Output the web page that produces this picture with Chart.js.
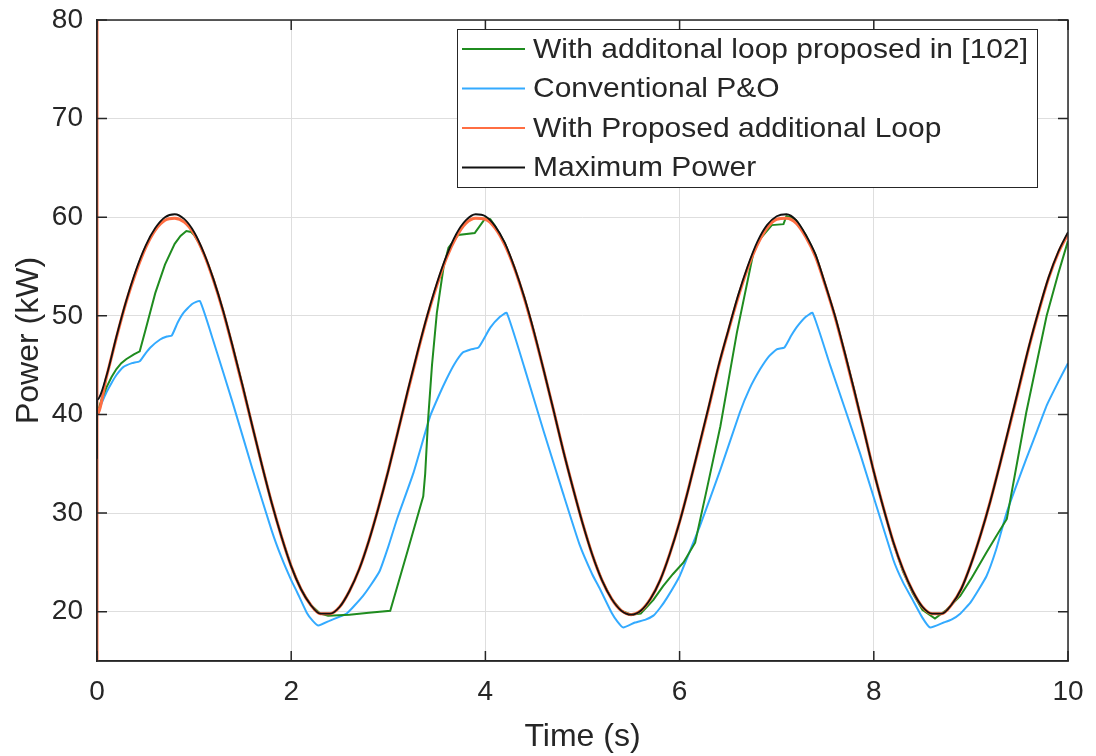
<!DOCTYPE html>
<html>
<head>
<meta charset="utf-8">
<script src="https://cdn.jsdelivr.net/npm/chart.js@4.4.1/dist/chart.umd.min.js"></script>
<style>
  html, body { margin: 0; padding: 0; background: #fff; }
</style>
</head>
<body>
<canvas id="myChart" width="1096" height="756"></canvas>
<script>
// axis ticks
const xTicks = [0, 2, 4, 6, 8, 10];
const yTicks = [20, 30, 40, 50, 60, 70, 80];

// Maximum Power (black), sampled every 0.1 s
const maxTime = [0, 0, 0.1, 0.2, 0.3, 0.4, 0.5, 0.6, 0.7, 0.8, 0.9, 1.0, 1.1, 1.2, 1.3, 1.4, 1.5, 1.6, 1.7, 1.8, 1.9,
  2.0, 2.1, 2.2, 2.3, 2.4, 2.5, 2.6, 2.7, 2.8, 2.9, 3.0, 3.1, 3.2, 3.3, 3.4, 3.5, 3.6, 3.7, 3.8, 3.9,
  4.0, 4.1, 4.2, 4.3, 4.4, 4.5, 4.6, 4.7, 4.8, 4.9, 5.0, 5.1, 5.2, 5.3, 5.4, 5.5, 5.6, 5.7, 5.8, 5.9,
  6.0, 6.1, 6.2, 6.3, 6.4, 6.5, 6.6, 6.7, 6.8, 6.9, 7.0, 7.1, 7.2, 7.3, 7.4, 7.5, 7.6, 7.7, 7.8, 7.9,
  8.0, 8.1, 8.2, 8.3, 8.4, 8.5, 8.6, 8.7, 8.8, 8.9, 9.0, 9.1, 9.2, 9.3, 9.4, 9.5, 9.6, 9.7, 9.8, 9.9, 10.0];
const maxPower = [35.5, 41.5, 44.0, 47.9, 51.5, 54.6, 57.1, 58.9, 60.0, 60.3, 59.8, 58.5, 56.4, 53.7, 50.5, 46.8, 42.9, 38.8, 34.8, 31.0, 27.6,
  24.6, 22.3, 20.7, 19.8, 19.8, 20.5, 22.1, 24.3, 27.2, 30.6, 34.3, 38.3, 42.4, 46.3, 50.0, 53.3, 56.1, 58.3, 59.7, 60.3,
  60.1, 59.1, 57.4, 54.9, 51.9, 48.4, 44.5, 40.5, 36.4, 32.6, 29.0, 25.8, 23.2, 21.3, 20.1, 19.7, 20.1, 21.3, 23.2, 25.9,
  29.1, 32.8, 36.8, 40.8, 44.9, 48.5, 52.0, 55.0, 57.5, 59.2, 60.1, 60.3, 59.7, 58.2, 56.2, 53.2, 50.0, 46.3, 42.4, 38.3,
  34.2, 30.5, 27.1, 24.3, 22.1, 20.5, 19.8, 19.8, 20.7, 22.3, 24.8, 27.8, 31.2, 35.0, 39.0, 43.0, 47.0, 50.6, 53.9, 56.5, 58.5];

// With Proposed additional Loop (orange)
const propTime = [0, 0, 0, 0.1, 0.2, 0.3, 0.4, 0.5, 0.6, 0.7, 0.8, 0.9, 1.0, 1.1, 1.2, 1.3, 1.4, 1.5, 1.6, 1.7, 1.8, 1.9,
  2.0, 2.1, 2.2, 2.3, 2.4, 2.5, 2.6, 2.7, 2.8, 2.9, 3.0, 3.1, 3.2, 3.3, 3.4, 3.5, 3.6, 3.7, 3.8, 3.9,
  4.0, 4.1, 4.2, 4.3, 4.4, 4.5, 4.6, 4.7, 4.8, 4.9, 5.0, 5.1, 5.2, 5.3, 5.4, 5.5, 5.6, 5.7, 5.8, 5.9,
  6.0, 6.1, 6.2, 6.3, 6.4, 6.5, 6.6, 6.7, 6.8, 6.9, 7.0, 7.1, 7.2, 7.3, 7.4, 7.5, 7.6, 7.7, 7.8, 7.9,
  8.0, 8.1, 8.2, 8.3, 8.4, 8.5, 8.6, 8.7, 8.8, 8.9, 9.0, 9.1, 9.2, 9.3, 9.4, 9.5, 9.6, 9.7, 9.8, 9.9, 10.0];
const propPower = [15.0, 80.0, 40.0, 43.9, 47.8, 51.4, 54.4, 56.9, 58.7, 59.7, 59.9, 59.5, 58.3, 56.3, 53.6, 50.4, 46.7, 42.8, 38.8, 34.8, 31.0, 27.6,
  24.6, 22.3, 20.7, 19.8, 19.8, 20.5, 22.1, 24.3, 27.2, 30.6, 34.3, 38.3, 42.3, 46.2, 49.9, 53.1, 55.9, 58.0, 59.4, 59.9,
  59.8, 58.9, 57.2, 54.8, 51.8, 48.3, 44.5, 40.5, 36.4, 32.6, 29.0, 25.8, 23.2, 21.3, 20.1, 19.7, 20.1, 21.3, 23.2, 25.9,
  29.1, 32.8, 36.7, 40.7, 44.8, 48.4, 51.8, 54.8, 57.2, 58.9, 59.8, 59.9, 59.4, 58.0, 56.0, 53.1, 49.9, 46.2, 42.3, 38.3,
  34.2, 30.5, 27.1, 24.3, 22.1, 20.5, 19.8, 19.8, 20.7, 22.3, 24.8, 27.8, 31.2, 35.0, 38.9, 42.9, 46.9, 50.5, 53.8, 56.4, 58.3];

// With additonal loop proposed in [102] (green)
const refTime = [0, 0.05, 0.1, 0.15, 0.2, 0.25, 0.3, 0.38, 0.44, 0.5, 0.6, 0.7, 0.8, 0.86, 0.92, 0.97, 1.0, 1.05, 1.1, 1.15, 1.2,
  1.3, 1.4, 1.5, 1.6, 1.7, 1.8, 1.9, 2.0, 2.1, 2.2, 2.3, 2.38, 2.6, 2.8, 3.02, 3.2, 3.36, 3.38, 3.41, 3.45, 3.5,
  3.57, 3.62, 3.72, 3.89, 4.0, 4.05, 4.1, 4.2, 4.3, 4.4, 4.5, 4.6, 4.7, 4.8, 4.9, 5.0, 5.1, 5.2, 5.3, 5.4, 5.5, 5.6,
  5.73, 5.83, 5.93, 6.04, 6.16, 6.28, 6.42, 6.59, 6.76, 6.83, 6.95, 7.07, 7.1, 7.15, 7.2, 7.3, 7.4, 7.5, 7.6, 7.7, 7.8, 7.9,
  8.0, 8.1, 8.2, 8.3, 8.4, 8.5, 8.63, 8.75, 8.89, 9.0, 9.16, 9.27, 9.37, 9.57, 9.78, 9.9, 10.0];
const refPower = [40.0, 41.6, 42.8, 43.8, 44.6, 45.2, 45.6, 46.1, 46.4, 48.6, 52.3, 55.2, 57.3, 58.1, 58.6, 58.5, 58.2, 57.4, 56.3, 55.1, 53.7,
  50.5, 46.8, 42.9, 38.8, 34.8, 31.0, 27.6, 24.6, 22.3, 20.7, 19.8, 19.6, 19.7, 19.9, 20.1, 26.2, 31.7, 34.0, 39.5, 45.0, 50.3,
  55.0, 56.9, 58.2, 58.4, 59.9, 59.8, 59.1, 57.4, 54.9, 51.9, 48.4, 44.5, 40.5, 36.4, 32.6, 29.0, 25.8, 23.2, 21.3, 20.1, 19.7, 19.8,
  21.2, 22.6, 23.8, 25.0, 27.0, 32.4, 38.8, 48.3, 56.4, 57.8, 59.2, 59.3, 60.1, 60.0, 59.7, 58.2, 56.2, 53.2, 50.0, 46.3, 42.4, 38.3,
  34.2, 30.5, 27.0, 24.1, 21.9, 20.2, 19.3, 20.2, 21.6, 23.3, 26.0, 27.8, 29.4, 40.2, 50.0, 54.3, 57.6];

// Conventional P&O (blue)
const poTime = [0, 0.05, 0.1, 0.15, 0.2, 0.27, 0.36, 0.44, 0.5, 0.55, 0.65, 0.72, 0.77, 0.83, 0.89, 0.98, 1.06,
  1.2, 1.4, 1.6, 1.8, 1.9, 2.0, 2.06, 2.16, 2.22, 2.28, 2.4, 2.57, 2.65, 2.74, 2.82, 2.91, 3.0, 3.09, 3.26, 3.43,
  3.52, 3.6, 3.68, 3.77, 3.85, 3.93, 4.05, 4.15, 4.22, 4.4, 4.6, 4.8, 4.97, 5.1, 5.18, 5.3, 5.36, 5.42, 5.54, 5.65,
  5.73, 5.8, 5.87, 6.0, 6.1, 6.21, 6.42, 6.62, 6.72, 6.83, 6.92, 7.0, 7.08, 7.15, 7.21, 7.3, 7.37, 7.55, 7.86,
  8.2, 8.3, 8.4, 8.5, 8.58, 8.72, 8.8, 8.89, 9.0, 9.16, 9.26, 9.37, 9.57, 9.68, 9.78, 9.9, 10.0];
const poPower = [40.0, 41.2, 42.3, 43.2, 44.0, 44.8, 45.2, 45.4, 46.2, 46.8, 47.6, 47.9, 48.0, 49.3, 50.3, 51.2, 51.5,
  47.4, 41.1, 34.5, 28.2, 25.5, 23.2, 22.0, 19.9, 19.1, 18.6, 19.1, 19.8, 20.6, 21.6, 22.7, 24.1, 26.6, 29.4, 34.1, 39.8,
  41.9, 43.6, 45.1, 46.3, 46.6, 46.8, 48.8, 49.9, 50.3, 44.8, 38.3, 32.0, 26.8, 23.8, 22.3, 19.9, 19.0, 18.4, 18.9, 19.2,
  19.6, 20.4, 21.4, 23.6, 26.0, 28.7, 34.4, 40.2, 42.6, 44.6, 45.9, 46.6, 46.8, 48.0, 48.9, 49.9, 50.3, 45.0, 36.0,
  25.3, 23.0, 21.2, 19.4, 18.4, 18.9, 19.2, 19.8, 21.0, 23.6, 26.3, 30.1, 35.5, 38.3, 40.9, 43.3, 45.2];

const seriesNames = ["With additonal loop proposed in [102]", "Conventional P&O", "With Proposed additional Loop", "Maximum Power"];
const seriesColors = ["#1f8c1f", "#33aaff", "#ff6e42", "#111111"];

const pts = (ts, ps) => ts.map((t, i) => ({ x: t, y: ps[i] }));
const txt = "#262626";
const tickFont = { family: "'Liberation Sans', Arial, sans-serif", size: 28 };
const titleFont = { family: "'Liberation Sans', Arial, sans-serif", size: 32 };

// MATLAB-like frame, inner tick marks and boxed legend in the upper right
const matlabBox = {
  id: "matlabBox",
  afterDatasetsDraw(chart) {
    const { ctx, chartArea: a, scales: { x, y } } = chart;
    ctx.save();
    ctx.strokeStyle = txt;
    ctx.lineWidth = 1.5;
    ctx.beginPath();
    xTicks.forEach(v => {
      const px = x.getPixelForValue(v);
      ctx.moveTo(px, a.bottom); ctx.lineTo(px, a.bottom - 10);
      ctx.moveTo(px, a.top); ctx.lineTo(px, a.top + 10);
    });
    yTicks.forEach(v => {
      const py = y.getPixelForValue(v);
      ctx.moveTo(a.left, py); ctx.lineTo(a.left + 10, py);
      ctx.moveTo(a.right, py); ctx.lineTo(a.right - 10, py);
    });
    ctx.stroke();
    ctx.strokeRect(a.left, a.top, a.right - a.left, a.bottom - a.top);

    // legend
    const bx = a.right - 31 - 580, by = a.top + 9, bw = 580, bh = 158;
    ctx.fillStyle = "#fff";
    ctx.fillRect(bx, by, bw, bh);
    ctx.lineWidth = 1;
    ctx.strokeRect(bx + 0.5, by + 0.5, bw, bh);
    ctx.font = "28px 'Liberation Sans', Arial, sans-serif";
    const sx = 495 / ctx.measureText(seriesNames[0]).width;
    ctx.textBaseline = "middle";
    seriesNames.forEach((name, i) => {
      const ry = by + 20 + i * 39.5;
      ctx.strokeStyle = seriesColors[i];
      ctx.lineWidth = 2;
      ctx.beginPath();
      ctx.moveTo(bx + 5, ry); ctx.lineTo(bx + 68, ry);
      ctx.stroke();
      ctx.save();
      ctx.translate(bx + 76, ry + 1);
      ctx.scale(sx, 1);
      ctx.fillStyle = txt;
      ctx.fillText(name, 0, 0);
      ctx.restore();
    });
    ctx.restore();
  }
};

const lineSet = (i, data, width, order, mode, tension) => ({
  label: seriesNames[i],
  data: data,
  borderColor: seriesColors[i],
  borderWidth: width,
  pointRadius: 0,
  cubicInterpolationMode: mode,
  tension: tension,
  fill: false,
  order: order,
});

new Chart(document.getElementById("myChart"), {
  type: "line",
  data: {
    datasets: [
      lineSet(0, pts(refTime, refPower), 2, 2, "default", 0),
      lineSet(1, pts(poTime, poPower), 2, 3, "default", 0.15),
      lineSet(2, pts(propTime, propPower), 3, 1, "monotone", 0),
      lineSet(3, pts(maxTime, maxPower), 1.8, 0, "monotone", 0),
    ],
  },
  options: {
    responsive: false,
    animation: false,
    layout: { padding: { left: 0, right: 28, top: 20, bottom: 0 } },
    plugins: { legend: { display: false }, tooltip: { enabled: false } },
    scales: {
      x: {
        type: "linear",
        min: 0,
        max: 10,
        afterBuildTicks: s => { s.ticks = xTicks.map(v => ({ value: v })); },
        afterFit: s => { s.height = 95; s.paddingLeft = 0; s.paddingRight = 0; },
        grid: { color: "#dedede", drawTicks: false },
        border: { color: txt, width: 1.5 },
        ticks: { color: txt, font: tickFont, padding: 14, maxRotation: 0 },
        title: { display: true, text: "Time (s)", color: txt, font: titleFont, padding: { top: 0, bottom: 0 } },
      },
      y: {
        min: 15,
        max: 80,
        afterBuildTicks: s => { s.ticks = yTicks.map(v => ({ value: v })); },
        afterFit: s => { s.width = 97; s.paddingTop = 0; s.paddingBottom = 0; },
        grid: { color: "#dedede", drawTicks: false },
        border: { color: txt, width: 1.5 },
        ticks: { color: txt, font: tickFont, padding: 14 },
        title: { display: true, text: "Power (kW)", color: txt, font: titleFont, padding: { top: 10, bottom: 0 } },
      },
    },
  },
  plugins: [matlabBox],
});
</script>
</body>
</html>
